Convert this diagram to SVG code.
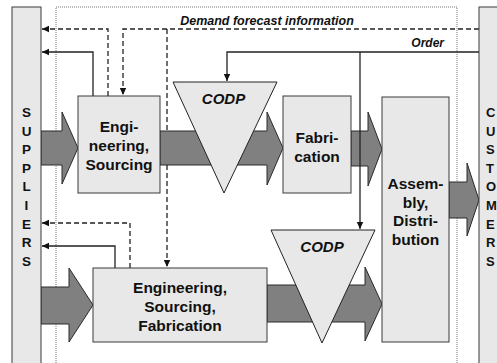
<svg xmlns="http://www.w3.org/2000/svg" width="497" height="363" viewBox="0 0 497 363">
<defs>
<style>
.box{fill:#e8e8e8;stroke:#3a3a3a;stroke-width:1}
.tri{fill:#e8e8e8;stroke:#222;stroke-width:1}
.flow{fill:#808080;stroke:#2a2a2a;stroke-width:1}
.ln{fill:none;stroke:#222;stroke-width:1.3}
.dash{fill:none;stroke:#222;stroke-width:1.3;stroke-dasharray:5 3}
.t{font-family:"Liberation Sans",Arial,sans-serif;font-weight:bold;font-size:15.5px;fill:#111;text-anchor:middle}
.v{font-family:"Liberation Sans",Arial,sans-serif;font-weight:bold;font-size:13.5px;fill:#111}
.c{font-family:"Liberation Sans",Arial,sans-serif;font-weight:bold;font-size:13px;fill:#111}
.i{font-family:"Liberation Sans",Arial,sans-serif;font-weight:bold;font-style:italic;fill:#111}
</style>
<marker id="ah" markerWidth="8" markerHeight="8" refX="7" refY="4" orient="auto" markerUnits="userSpaceOnUse">
<path d="M0,0.8 L7,4 L0,7.2 Z" fill="#111"/>
</marker>
</defs>
<rect width="497" height="363" fill="#ffffff"/>
<rect x="56" y="7" width="401" height="370" fill="none" stroke="#777" stroke-width="1" stroke-dasharray="1 1"/>

<g id="connectors">
<path class="dash" d="M167,29 V267" marker-end="url(#ah)"/>
<path class="dash" d="M479,29 H123 V95" marker-end="url(#ah)"/>
<path class="dash" d="M108,96 V29 H42" marker-end="url(#ah)"/>
<path class="ln" d="M93,96 V52 H42" marker-end="url(#ah)"/>
<path class="dash" d="M130,268 V223 H42" marker-end="url(#ah)"/>
<path class="ln" d="M115,268 V246 H42" marker-end="url(#ah)"/>
<polygon class="flow" points="41,131 62,131 62,112 78,148 62,184 62,165 41,165"/>
<polygon class="flow" points="160,131 267,131 267,112 283,148 267,185 267,165 160,165"/>
<polygon class="flow" points="351,131 368,131 368,112 382,149 368,186 368,166 351,166"/>
<polygon class="flow" points="449,182 467,182 467,163 479,200 467,236 467,218 449,218"/>
<polygon class="flow" points="41,287 69,287 69,268 93,305 69,342 69,324 41,324"/>
<polygon class="flow" points="267,285 365,285 365,267 382,304 365,341 365,322 267,322"/>
<path class="ln" d="M479,52 H227 V81" marker-end="url(#ah)"/>
<path class="ln" d="M360,52 V229" marker-end="url(#ah)"/>
</g>

<g id="suppliers">
<rect class="box" x="12" y="7" width="29" height="362"/>
<text class="v" x="26.5" text-anchor="middle"><tspan x="26.5" y="117">S</tspan><tspan x="26.5" y="135.6">U</tspan><tspan x="26.5" y="154.2">P</tspan><tspan x="26.5" y="172.8">P</tspan><tspan x="26.5" y="191.4">L</tspan><tspan x="26.5" y="210">I</tspan><tspan x="26.5" y="228.6">E</tspan><tspan x="26.5" y="247.2">R</tspan><tspan x="26.5" y="265.8">S</tspan></text>
</g>

<g id="customers">
<rect class="box" x="479" y="7" width="30" height="362"/>
<text class="c"><tspan x="486" y="117">C</tspan><tspan x="486" y="135.6">U</tspan><tspan x="486" y="154.2">S</tspan><tspan x="486" y="172.8">T</tspan><tspan x="486" y="191.4">O</tspan><tspan x="486" y="210">M</tspan><tspan x="486" y="228.6">E</tspan><tspan x="486" y="247.2">R</tspan><tspan x="486" y="265.8">S</tspan></text>
</g>

<g id="eng-sourcing">
<rect class="box" x="78" y="96" width="82" height="97"/>
<text class="t"><tspan x="119" y="132">Engi-</tspan><tspan x="119" y="151">neering,</tspan><tspan x="119" y="170">Sourcing</tspan></text>
</g>

<g id="codp-top">
<polygon class="tri" points="173,82 277,82 224,193"/>
<text class="i" x="223.5" y="103.5" font-size="15" text-anchor="middle">CODP</text>
</g>

<g id="fabrication">
<rect class="box" x="283" y="96" width="68" height="97"/>
<text class="t"><tspan x="317" y="143">Fabri-</tspan><tspan x="317" y="161.5">cation</tspan></text>
</g>

<g id="assembly">
<rect class="box" x="382" y="97" width="67" height="245"/>
<text class="t"><tspan x="415.5" y="189">Assem-</tspan><tspan x="415.5" y="207.5">bly,</tspan><tspan x="415.5" y="226">Distri-</tspan><tspan x="415.5" y="244.5">bution</tspan></text>
</g>

<g id="eng-sourcing-fab">
<rect class="box" x="93" y="268" width="174" height="74"/>
<text class="t"><tspan x="180" y="292.5">Engineering,</tspan><tspan x="180" y="311.5">Sourcing,</tspan><tspan x="180" y="330.5">Fabrication</tspan></text>
</g>

<g id="codp-bottom">
<polygon class="tri" points="271,230 375,230 322,343"/>
<text class="i" x="322" y="252" font-size="15" text-anchor="middle">CODP</text>
</g>

<g id="labels">
<text class="i" x="267" y="24.5" font-size="12.5" text-anchor="middle">Demand forecast information</text>
<text class="i" x="444" y="47" font-size="12" text-anchor="end">Order</text>
</g>
</svg>
